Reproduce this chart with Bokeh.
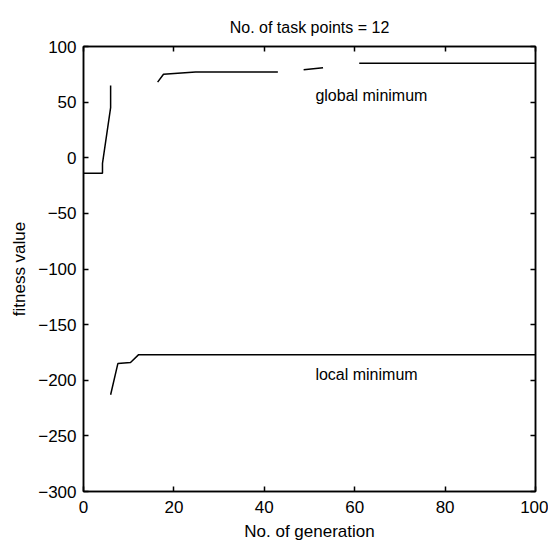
from bokeh.plotting import figure
from bokeh.models import LinearAxis, Range1d, FixedTicker, Label
from bokeh.embed import file_html
from bokeh.resources import INLINE
import numpy as np

# data (NaN = gaps visible in the scanned figure)
gen_global = [0, 4.2, 4.2, 6.0, 6.0, np.nan, 16.4, 17.7, 24.8, 43.0, np.nan, 48.7, 53.0, np.nan, 61.0, 94.5, 100]
fit_global = [-14, -14, -5, 45, 65, np.nan, 68, 75, 77, 77, np.nan, 79, 81, np.nan, 85, 85, 85]
gen_local = [6.0, 7.6, 10.4, 12.2, 100]
fit_local = [-213, -185, -184, -177, -177]
x_ticks = [0, 20, 40, 60, 80, 100]
y_ticks = [100, 50, 0, -50, -100, -150, -200, -250, -300]
title_text = "No. of task points = 12"
x_label = "No. of generation"
y_label = "fitness value"
ann_global = ("global minimum", 51.3, 56)
ann_local = ("local minimum", 51.3, -195)

FONT = "Liberation Sans"

p = figure(width=548, height=543, output_backend="svg", toolbar_location=None,
           x_range=Range1d(0, 100), y_range=Range1d(-300, 100),
           min_border_left=83, min_border_right=13, min_border_top=46, min_border_bottom=51)
p.background_fill_color = "white"
p.border_fill_color = "white"
p.xgrid.visible = False
p.ygrid.visible = False
p.outline_line_color = "black"
p.outline_line_width = 1.5

p.title.text = title_text
p.title.align = "center"
p.title.text_font = FONT
p.title.text_font_style = "normal"
p.title.text_font_size = "16px"
p.title.text_color = "black"
p.title.offset = 0
p.title.standoff = 22

for ax in (p.xaxis[0], p.yaxis[0]):
    ax.major_tick_in = 5
    ax.major_tick_out = 0
    ax.minor_tick_in = 0
    ax.minor_tick_out = 0
    ax.axis_line_width = 1.5
    ax.axis_line_color = "black"
    ax.major_tick_line_width = 1.5
    ax.major_label_text_font = FONT
    ax.major_label_text_font_size = "17px"
    ax.major_label_text_color = "black"
    ax.axis_label_text_font = FONT
    ax.axis_label_text_font_size = "17px"
    ax.axis_label_text_font_style = "normal"
    ax.axis_label_text_color = "black"

p.xaxis[0].ticker = FixedTicker(ticks=x_ticks)
p.yaxis[0].ticker = FixedTicker(ticks=y_ticks)
p.xaxis[0].axis_label = x_label
p.yaxis[0].axis_label = y_label
p.xaxis[0].major_label_standoff = 9
p.yaxis[0].major_label_standoff = 7
p.xaxis[0].axis_label_standoff = 6
p.yaxis[0].axis_label_standoff = 6

top = LinearAxis(ticker=FixedTicker(ticks=x_ticks), major_tick_in=5, major_tick_out=0,
                 minor_tick_in=0, minor_tick_out=0,
                 major_label_overrides={t: "" for t in x_ticks},
                 axis_line_width=1.5, major_tick_line_width=1.5)
right = LinearAxis(ticker=FixedTicker(ticks=y_ticks), major_tick_in=5, major_tick_out=0,
                   minor_tick_in=0, minor_tick_out=0,
                   major_label_overrides={t: "" for t in y_ticks},
                   axis_line_width=1.5, major_tick_line_width=1.5)
top.major_label_standoff = 0
right.major_label_standoff = 0
p.add_layout(top, "above")
p.add_layout(right, "right")

p.line(gen_global, fit_global, line_color="black", line_width=1.5)
p.line(gen_local, fit_local, line_color="black", line_width=1.5)

for txt, xx, yy in (ann_global, ann_local):
    p.add_layout(Label(x=xx, y=yy, text=txt, text_font=FONT, text_font_size="16px",
                       text_baseline="middle", text_color="black"))

open("out.html", "w").write(file_html(p, INLINE))
